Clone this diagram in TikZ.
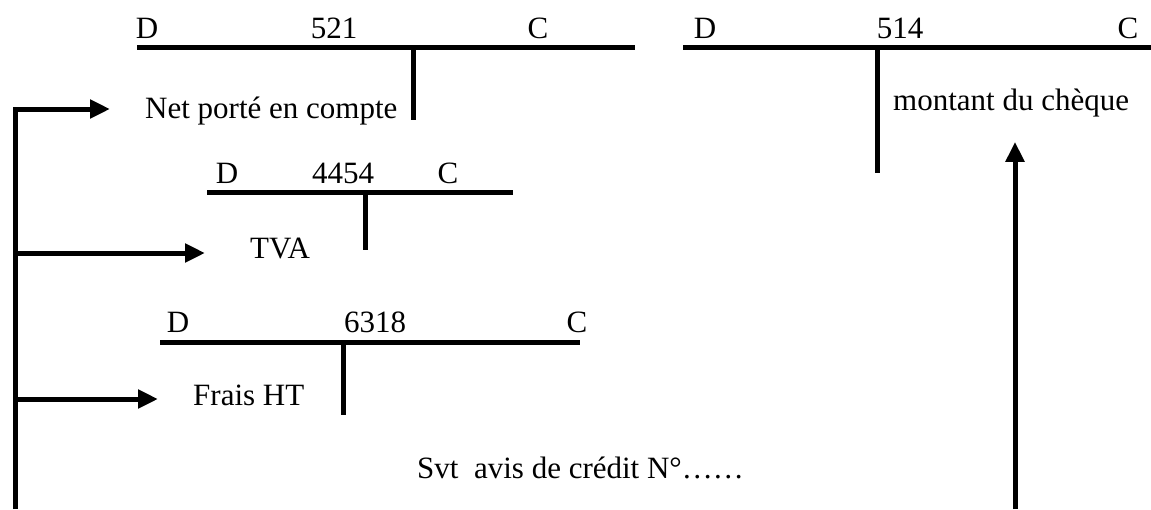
\documentclass[tikz,border=0pt]{standalone}
\usepackage{fontspec}
\setmainfont{Liberation Serif}
\usetikzlibrary{calc, arrows.meta}

\begin{document}
\begin{tikzpicture}[x=1pt, y=-1pt,
    tline/.style={line width=5pt},
    flow/.style={line width=5pt, line join=miter, -{Triangle[length=20pt, width=18pt]}},
    lbl/.style={anchor=base, inner sep=0pt, font=\fontsize{31}{37}\selectfont},
    entry/.style={anchor=base west, inner sep=0pt, font=\fontsize{31}{37}\selectfont}]
  \useasboundingbox (0,0) rectangle (1151,509);
  % compte 521
  \draw[tline] (137,47) -- (635,47);
  \draw[tline] (413,47) -- (413,120);
  \node[lbl] (d521) at (147,38) {D};
  \node[lbl] (n521) at (334,38) {521};
  \node[lbl] (c521) at (538,38) {C};
  \node[entry] (net) at (145,118) {Net porté en compte};
  % compte 514
  \draw[tline] (683,47) -- (1151,47);
  \draw[tline] (877,47) -- (877,173);
  \node[lbl] (d514) at (705,38) {D};
  \node[lbl] (n514) at (900,38) {514};
  \node[lbl] (c514) at (1128,38) {C};
  \node[entry] (montant) at (893,110) {montant du chèque};
  % compte 4454
  \draw[tline] (207,192) -- (513,192);
  \draw[tline] (365,192) -- (365,250);
  \node[lbl] (d4454) at (227,183) {D};
  \node[lbl] (n4454) at (343,183) {4454};
  \node[lbl] (c4454) at (448,183) {C};
  \node[entry] (tva) at (250,258) {TVA};
  % compte 6318
  \draw[tline] (160,342) -- (580,342);
  \draw[tline] (343,342) -- (343,415);
  \node[lbl] (d6318) at (178,332) {D};
  \node[lbl] (n6318) at (375,332) {6318};
  \node[lbl] (c6318) at (577,332) {C};
  \node[entry] (frais) at (193,405) {Frais HT};
  % pièce justificative
  \node[entry] (avis) at (417,478) {Svt\ \ avis de crédit N°……};
  % ventilation
  \coordinate (tbot) at (15,509);
  \coordinate (j1) at (15,109);
  \coordinate (j2) at (15,253);
  \coordinate (j3) at (15,399);
  \draw[flow, shorten >=35pt] (tbot) -- (j1) -- (j1 -| net.west);
  \draw[flow, shorten >=45pt] (j2) -- (j2 -| tva.west);
  \draw[flow, shorten >=35pt] (j3) -- (j3 -| frais.west);
  % chèque
  \coordinate (foot) at (1015,509);
  \draw[flow, shorten >=25pt] (foot) -- (foot |- montant.south);
\end{tikzpicture}
\end{document}
